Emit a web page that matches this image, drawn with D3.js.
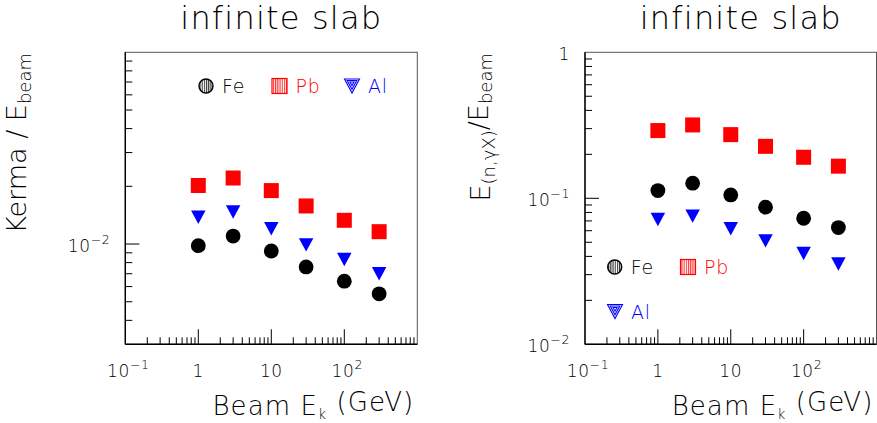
<!DOCTYPE html>
<html>
<head>
<meta charset="utf-8">
<script src="https://cdn.jsdelivr.net/npm/d3@7"></script>
<style>
    body { margin: 0; background: #fff; }
    text { font-family: "DejaVu Sans", sans-serif; font-weight: 200; fill: #000; }
</style>
</head>
<body>
<script>
// beam kinetic energies (GeV)
var energies = [1, 3, 10, 30, 100, 300];
// left: Kerma / E_beam
var kermaFe = [0.0098, 0.0110, 0.0092, 0.0076, 0.0064, 0.0055];
var kermaPb = [0.0202, 0.0221, 0.0190, 0.0158, 0.0133, 0.0116];
var kermaAl = [0.0138, 0.0147, 0.0120, 0.0099, 0.0083, 0.0070];
// right: E_(n,gammaX) / E_beam
var ngxFe = [0.113, 0.127, 0.1055, 0.087, 0.073, 0.063];
var ngxPb = [0.291, 0.318, 0.273, 0.227, 0.191, 0.166];
var ngxAl = [0.0717, 0.0755, 0.0618, 0.0511, 0.0419, 0.0355];

var xTickLabels = [[0.1, "10", "\u22121"], [1, "1", ""], [10, "10", ""], [100, "10", "2"]];
var leftYTickLabels = [[0.01, "10", "\u22122"]];
var rightYTickLabels = [[1, "1", ""], [0.1, "10", "\u22121"], [0.01, "10", "\u22122"]];

var W = 877, H = 423;
var svg = d3.select("body").append("svg").attr("width", W).attr("height", H);

var defs = svg.append("defs");
function hatch(id, col) {
    var p = defs.append("pattern").attr("id", id)
        .attr("patternUnits", "userSpaceOnUse").attr("width", 2.2).attr("height", 4);
    p.append("rect").attr("width", 2.2).attr("height", 4).attr("fill", "#fff");
    p.append("line").attr("x1", 0.6).attr("x2", 0.6).attr("y1", 0).attr("y2", 4)
        .attr("stroke", col).attr("stroke-width", 0.9);
}
hatch("hBlack", "#000");
hatch("hRed", "#ff0000");

function tri(s) {
    var w = s, h = s * 0.93;
    return "M" + (-w / 2) + "," + (-h / 2) + "L" + (w / 2) + "," + (-h / 2) + "L0," + (h / 2) + "Z";
}

function logTicks(dom) {
    var out = [];
    var lo = Math.floor(Math.log10(dom[0])), hi = Math.ceil(Math.log10(dom[1]));
    for (var d = lo; d <= hi; d++) {
        for (var k = 1; k <= 9; k++) {
            var v = k * Math.pow(10, d);
            if (v > dom[0] * 1.0001 && v < dom[1] * 0.9999) out.push({ v: v, major: k === 1 });
        }
    }
    return out;
}

function label(g, base, sup, anchor) {
    var t = g.append("text").attr("text-anchor", anchor)
        .style("font-size", "17px").style("letter-spacing", "0.6px");
    t.append("tspan").text(base);
    if (sup) t.append("tspan").attr("dy", "-0.6em").style("font-size", "12.5px").text(sup);
    return t;
}

function panel(cfg) {
    var x = d3.scaleLog().domain([0.1, 1000]).range([cfg.x0, cfg.x1]);
    var y = d3.scaleLog().domain(cfg.yDomain).range([cfg.y1, cfg.y0]);
    var g = svg.append("g");

    // frame
    g.append("rect").attr("x", cfg.x0).attr("y", cfg.y0)
        .attr("width", cfg.x1 - cfg.x0).attr("height", cfg.y1 - cfg.y0)
        .attr("fill", "none").attr("stroke", "#555").attr("stroke-width", 1);
    g.append("line").attr("x1", cfg.x0).attr("x2", cfg.x1).attr("y1", cfg.y1).attr("y2", cfg.y1)
        .attr("stroke", "#000").attr("stroke-width", 1.4);
    g.append("line").attr("x1", cfg.x0).attr("x2", cfg.x0).attr("y1", cfg.y0).attr("y2", cfg.y1)
        .attr("stroke", "#000").attr("stroke-width", 1.4);

    // ticks (inside)
    logTicks(x.domain()).forEach(function (t) {
        g.append("line").attr("x1", x(t.v)).attr("x2", x(t.v))
            .attr("y1", cfg.y1).attr("y2", cfg.y1 - (t.major ? 15 : 7))
            .attr("stroke", "#000").attr("stroke-width", 1);
    });
    logTicks(y.domain()).forEach(function (t) {
        g.append("line").attr("y1", y(t.v)).attr("y2", y(t.v))
            .attr("x1", cfg.x0).attr("x2", cfg.x0 + (t.major ? 14 : 7))
            .attr("stroke", "#000").attr("stroke-width", 1);
    });

    xTickLabels.forEach(function (l) {
        label(g, l[1], l[2], "middle")
            .attr("x", x(l[0]) + (l[2] ? 3 : 0)).attr("y", cfg.y1 + 32.5);
    });
    cfg.yLabels.forEach(function (l) {
        label(g, l[1], l[2], "end")
            .attr("x", cfg.x0 - 15).attr("y", y(l[0]) + 7.5);
    });

    // markers
    var pts = function (vals) { return energies.map(function (e, i) { return [e, vals[i]]; }); };
    g.selectAll(null).data(pts(cfg.pb)).enter().append("rect")
        .attr("x", function (d) { return x(d[0]) - 7.5; })
        .attr("y", function (d) { return y(d[1]) - 7.5; })
        .attr("width", 15).attr("height", 15).attr("fill", "#ff0000");
    g.selectAll(null).data(pts(cfg.al)).enter().append("path")
        .attr("d", tri(14.5))
        .attr("transform", function (d) { return "translate(" + x(d[0]) + "," + y(d[1]) + ")"; })
        .attr("fill", "#0000ff");
    g.selectAll(null).data(pts(cfg.fe)).enter().append("circle")
        .attr("cx", function (d) { return x(d[0]); })
        .attr("cy", function (d) { return y(d[1]); })
        .attr("r", 7.4).attr("fill", "#000");

    // legend
    cfg.legend.forEach(function (l) {
        var lg = g.append("g").attr("transform", "translate(" + l.x + "," + l.y + ")");
        if (l.kind === "fe") {
            lg.append("circle").attr("r", 7).attr("fill", "url(#hBlack)")
                .attr("stroke", "#000").attr("stroke-width", 1.4);
        } else if (l.kind === "pb") {
            lg.append("rect").attr("x", -7.5).attr("y", -7.5).attr("width", 15).attr("height", 15)
                .attr("fill", "url(#hRed)").attr("stroke", "#ff0000").attr("stroke-width", 1.2);
        } else {
            [15, 9.5, 4].forEach(function (s) {
                lg.append("path").attr("d", tri(s)).attr("transform", "translate(0," + (-(15 - s) * 0.2) + ")")
                    .attr("fill", "none").attr("stroke", "#0000ff").attr("stroke-width", 1.1);
            });
        }
        lg.append("text").attr("x", 16).attr("y", 7)
            .style("font-size", "19px").style("letter-spacing", "0.8px")
            .style("fill", l.col).text(l.name);
    });

    // title
    g.append("text").attr("x", (cfg.x0 + cfg.x1) / 2 + 10).attr("y", 28.5)
        .attr("text-anchor", "middle").style("font-size", "32px").style("letter-spacing", "1.2px")
        .text("infinite slab");

    // x title
    var xt = g.append("text").attr("x", cfg.x1 - 3).attr("y", 415)
        .attr("text-anchor", "end").style("font-size", "26px").style("letter-spacing", "1.1px");
    xt.append("tspan").text("Beam E");
    xt.append("tspan").attr("dy", "0.3em").style("font-size", "14px").text("k");
    xt.append("tspan").attr("dy", "-0.3em").text("\u00a0(GeV)");

    // y title
    var yt = g.append("text").attr("transform", "translate(" + cfg.ytx + ",53) rotate(-90)")
        .attr("text-anchor", "end").style("font-size", "27px");
    cfg.ytitle(yt);
}

panel({
    x0: 125.3, x1: 417.3, y0: 52.3, y1: 344.3,
    yDomain: [0.003, 0.1], yLabels: leftYTickLabels,
    fe: kermaFe, pb: kermaPb, al: kermaAl,
    ytx: 26,
    ytitle: function (t) {
        t.append("tspan").text("Kerma / E");
        t.append("tspan").attr("dy", "0.25em").style("font-size", "18px").text("beam");
    },
    legend: [
        { kind: "fe", name: "Fe", x: 206, y: 86, col: "#000" },
        { kind: "pb", name: "Pb", x: 279.5, y: 86, col: "#ff0000" },
        { kind: "al", name: "Al", x: 352, y: 86, col: "#0000ff" }
    ]
});

panel({
    x0: 585, x1: 876.5, y0: 52.3, y1: 344.3,
    yDomain: [0.01, 1], yLabels: rightYTickLabels,
    fe: ngxFe, pb: ngxPb, al: ngxAl,
    ytx: 490,
    ytitle: function (t) {
        t.append("tspan").text("E");
        t.append("tspan").attr("dy", "0.25em").style("font-size", "18px").text("(n,\u03b3X)");
        t.append("tspan").attr("dy", "-0.25em").text("/E");
        t.append("tspan").attr("dy", "0.25em").style("font-size", "18px").text("beam");
    },
    legend: [
        { kind: "fe", name: "Fe", x: 614.7, y: 267, col: "#000" },
        { kind: "pb", name: "Pb", x: 688, y: 267, col: "#ff0000" },
        { kind: "al", name: "Al", x: 615, y: 311.5, col: "#0000ff" }
    ]
});
</script>
</body>
</html>
